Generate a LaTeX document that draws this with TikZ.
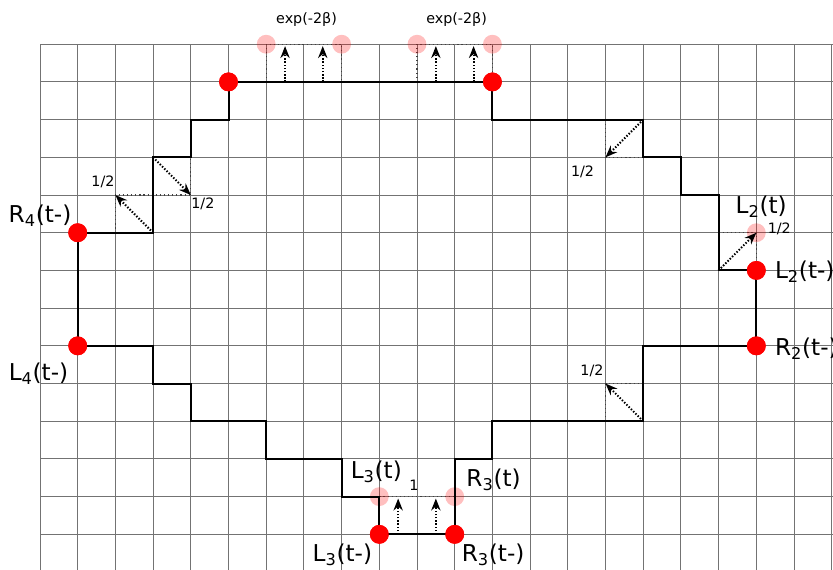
\documentclass[tikz,border=0pt]{standalone}
\usepackage{fontspec}
\setmainfont{DejaVu Sans}
\usetikzlibrary{arrows.meta}
\begin{document}
\begin{tikzpicture}[x=1cm,y=-1cm,
  gridline/.style={draw=black!55, line width=0.7pt},
  contour/.style={draw=black, line width=1.5pt, line join=miter},
  helper/.style={draw=black!75, line width=0.8pt, dash pattern=on 0.9pt off 2.2pt},
  jump/.style={draw=black, line width=1.5pt, dash pattern=on 1.1pt off 1.3pt,
    -{Stealth[length=9pt,width=7pt,inset=3pt]}},
  dot/.style={circle, fill=red, inner sep=0pt, minimum size=0.5cm},
  ghost/.style={circle, fill=red, fill opacity=0.25, inner sep=0pt, minimum size=0.5cm},
  big/.style={font=\fontsize{17.5}{18}\selectfont, inner sep=0pt, anchor=base},
  bigw/.style={big, anchor=base west},
  small/.style={font=\fontsize{10.8}{11}\selectfont, inner sep=0pt, anchor=base}
]
\useasboundingbox (-1.061,-1.173) rectangle (21.034,13.92);

% grid
\foreach \i in {0,...,21} \draw[gridline] (\i,0) -- (\i,14.2);
\foreach \j in {0,...,13} \draw[gridline] (0,\j) -- (21.3,\j);

% helper (dotted) squares
\draw[helper] (6,1) -- (6,0) -- (8,0) -- (8,1);
\draw[helper] (10,1) -- (10,0) -- (12,0) -- (12,1);
\draw[helper] (2,5) -- (2,4) -- (4,4) -- (4,3);
\draw[helper] (15,2) -- (15,3) -- (16,3);
\draw[helper] (18,5) -- (19,5) -- (19,6);
\draw[helper] (15,10) -- (15,9) -- (16,9);
\draw[helper] (9,12) -- (11,12);

% red dots (current positions) and pale dots (new positions)
\node[dot] (T1) at (5,1) {};
\node[dot] (T2) at (12,1) {};
\node[dot] (R4) at (1,5) {};
\node[dot] (L4) at (1,8) {};
\node[dot] (L2) at (19,6) {};
\node[dot] (R2) at (19,8) {};
\node[dot] (L3) at (9,13) {};
\node[dot] (R3) at (11,13) {};
\node[ghost] (G1) at (6,0) {};
\node[ghost] (G2) at (8,0) {};
\node[ghost] (G3) at (10,0) {};
\node[ghost] (G4) at (12,0) {};
\node[ghost] (L2t) at (19,5) {};
\node[ghost] (L3t) at (9,12) {};
\node[ghost] (R3t) at (11,12) {};

% contour
\draw[contour] (T1.center) -- (T2.center) -- (12,2) -- (16,2) -- (16,3) -- (17,3) -- (17,4)
  -- (18,4) -- (18,6) -- (L2.center) -- (R2.center) -- (16,8) -- (16,10) -- (12,10)
  -- (12,11) -- (11,11) -- (R3.center) -- (L3.center) -- (9,12) -- (8,12) -- (8,11)
  -- (6,11) -- (6,10) -- (4,10) -- (4,9) -- (3,9) -- (3,8) -- (L4.center) -- (R4.center)
  -- (3,5) -- (3,3) -- (4,3) -- (4,2) -- (5,2) -- cycle;

% redraw dots on top of contour
\foreach \n in {T1,T2,R4,L4,L2,R2,L3,R3} \fill[red] (\n.center) circle (0.25);

% jump arrows
\coordinate (a1s) at (6.5,1);  \coordinate (a1e) at (6.5,0.05);
\coordinate (a2s) at (7.5,1);  \coordinate (a2e) at (7.5,0.05);
\coordinate (a3s) at (10.5,1); \coordinate (a3e) at (10.5,0.05);
\coordinate (a4s) at (11.5,1); \coordinate (a4e) at (11.5,0.05);
\coordinate (b1s) at (9.5,13);  \coordinate (b1e) at (9.5,12.05);
\coordinate (b2s) at (10.5,13); \coordinate (b2e) at (10.5,12.05);
\coordinate (c1s) at (3,5); \coordinate (c1e) at (2,4);
\coordinate (c2s) at (3,3); \coordinate (c2e) at (4,4);
\coordinate (c3s) at (16,2); \coordinate (c3e) at (15,3);
\coordinate (c4s) at (16,10); \coordinate (c4e) at (15,9);
\coordinate (c5s) at (18,6);
\foreach \s/\e in {a1s/a1e,a2s/a2e,a3s/a3e,a4s/a4e,b1s/b1e,b2s/b2e,c1s/c1e,c2s/c2e,c3s/c3e,c4s/c4e}
  \draw[jump] (\s) -- (\e);
\draw[jump] (c5s) -- (L2t.center);

% labels
\node[small] (e1) at (7.07,-0.556) {exp(-2β)};
\node[small] (e2) at (11.05,-0.556) {exp(-2β)};
\node[small] (h1) at (1.67,3.77) {1/2};
\node[small] (h2) at (4.32,4.37) {1/2};
\node[small] (h3) at (14.39,3.52) {1/2};
\node[small] (h4) at (19.61,5.03) {1/2};
\node[small] (h5) at (14.64,8.78) {1/2};
\node[small] (one) at (9.92,11.83) {1};

\node[big] (tR4) at (0,4.73) {R\textsubscript{4}(t-)};
\node[big] (tL4) at (-0.04,8.91) {L\textsubscript{4}(t-)};
\node[big] (tL2t) at (19.13,4.48) {L\textsubscript{2}(t)};
\node[bigw] (tL2) at (19.49,6.22) {L\textsubscript{2}(t-)};
\node[bigw] (tR2) at (19.49,8.26) {R\textsubscript{2}(t-)};
\node[big] (tL3t) at (8.92,11.51) {L\textsubscript{3}(t)};
\node[big] (tR3t) at (12.03,11.72) {R\textsubscript{3}(t)};
\node[big] (tL3) at (8.02,13.71) {L\textsubscript{3}(t-)};
\node[big] (tR3) at (12.02,13.71) {R\textsubscript{3}(t-)};
\end{tikzpicture}
\end{document}
